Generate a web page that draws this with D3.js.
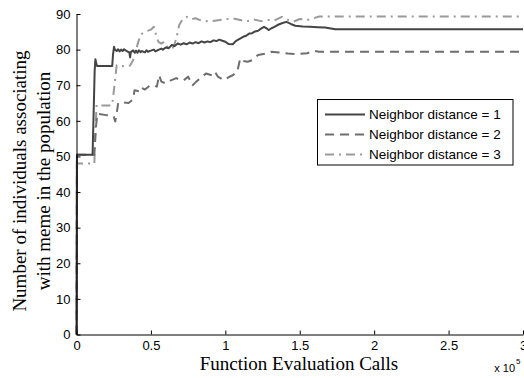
<!DOCTYPE html>
<html><head><meta charset="utf-8">
<script src="https://cdn.jsdelivr.net/npm/d3@7"></script>
<style>
html,body{margin:0;padding:0;background:#fff;}
svg{display:block;}
</style></head>
<body>
<svg id="chart" width="524" height="378"></svg>
<script>
// ---- data (x in units of 1e5 function evaluation calls) ----
const xTicks = [0, 0.5, 1, 1.5, 2, 2.5, 3];
const yTicks = [0, 10, 20, 30, 40, 50, 60, 70, 80, 90];
const seriesNames = ["Neighbor distance = 1", "Neighbor distance = 2", "Neighbor distance = 3"];

const d1x = [0,0.003,0.108,0.115,0.122,0.127,0.132,0.138,0.24,0.245,0.252,0.258,0.27,0.28,0.29,0.30,0.31,0.32,0.33,0.345,0.355,0.36,0.365,0.38,0.39,0.40,0.41,0.42,0.43,0.44,0.46,0.47,0.48,0.50,0.52,0.53,0.55,0.57,0.58,0.60,0.62,0.64,0.66,0.68,0.70,0.72,0.74,0.76,0.78,0.80,0.82,0.84,0.86,0.88,0.90,0.92,0.94,0.96,0.98,1.0,1.02,1.05,1.07,1.09,1.12,1.14,1.16,1.18,1.20,1.22,1.24,1.26,1.28,1.29,1.31,1.33,1.35,1.38,1.41,1.44,1.47,1.52,1.57,1.62,1.67,1.71,1.74,3.0];
const d1y = [0,50.5,50.5,62,74,77.3,76.2,75.4,75.4,78.5,80.8,80,79.6,80.1,79.5,80,79.6,80.1,79.8,79.4,79.2,77.8,79.3,79.8,79.2,79.7,79.1,79.8,79.3,79.6,79.2,79.8,79.4,79.7,80,79.5,79.9,80.3,80,80.6,80.4,81.3,81,81.7,81.4,81.8,81.5,82,81.7,82.1,81.8,82.3,82,82.3,82.1,82.6,82.4,82.8,82.5,82.2,81.6,81.5,82.4,82.9,83.6,83.9,84.5,84.6,85.1,85.3,85.9,86.4,85.9,85.5,86,86.4,86.9,87.4,87.8,87.2,86.7,86.5,86.4,86.3,86.2,85.9,85.7,85.7];

const d2x = [0,0.003,0.12,0.13,0.14,0.2,0.235,0.25,0.26,0.27,0.28,0.31,0.35,0.38,0.39,0.42,0.43,0.46,0.49,0.52,0.54,0.555,0.57,0.60,0.63,0.67,0.70,0.72,0.75,0.78,0.80,0.83,0.87,0.91,0.93,0.95,0.99,1.03,1.05,1.08,1.10,1.12,1.15,1.18,1.22,1.27,1.31,1.36,1.42,1.48,1.55,1.60,1.63,3.0];
const d2y = [0,50.5,50.5,58,62,61.6,61.5,61.2,59.8,62,65,65.2,65,66,68.6,68.3,69.4,68.8,69.8,70,69.6,72.8,71,70.5,71.3,72,71.4,71.4,72.4,70,70.8,71.9,73.3,72.8,73.8,72.4,71.4,72.4,72.8,73.8,77.5,76.8,76.6,77,78.5,78.9,79.4,79.2,78.9,78.7,79,79.6,79.4,79.4];

const d3x = [0,0.003,0.12,0.125,0.135,0.16,0.22,0.24,0.255,0.27,0.30,0.33,0.36,0.38,0.40,0.43,0.46,0.50,0.52,0.535,0.55,0.57,0.59,0.61,0.63,0.65,0.67,0.69,0.71,0.74,0.77,0.80,0.83,0.86,0.90,0.94,0.98,1.05,1.10,1.14,1.19,1.24,1.29,1.33,1.38,1.42,1.46,1.50,1.55,1.60,1.63,3.0];
const d3y = [0,48,48,55,64.5,64.3,64.3,64.5,70,75.6,75.4,75.3,75.5,77,80,84.2,85,85.6,86.4,84,82.2,81.7,82.2,80.8,80.2,80.6,83,86.9,88.3,89.2,88.5,88.8,88.3,88.1,87.9,88.2,88.4,88.8,88.3,87.9,88.5,88,88.3,88.2,89.2,88.4,87.9,88.6,88.3,88.9,89.3,89.3];

// ---- layout ----
const svg = d3.select("#chart");
const x = d3.scaleLinear().domain([0, 3]).range([76.5, 523]);
const y = d3.scaleLinear().domain([0, 90]).range([334.5, 14]);

const styles = [
  {color: "#444444", dash: null},
  {color: "#6e6e6e", dash: "9,6"},
  {color: "#9a9a9a", dash: "9,5,2,5"}
];
const data = [
  d1x.map((v, i) => [v, d1y[i]]),
  d2x.map((v, i) => [v, d2y[i]]),
  d3x.map((v, i) => [v, d3y[i]])
];

const line = d3.line().x(d => x(d[0])).y(d => y(d[1]));

// draw series: dash-dot (back), dashed, solid (front)
[2, 1, 0].forEach(k => {
  svg.append("path")
    .attr("d", line(data[k]))
    .attr("fill", "none")
    .attr("stroke", styles[k].color)
    .attr("stroke-width", 2)
    .attr("stroke-linejoin", "round")
    .attr("stroke-dasharray", styles[k].dash);
});

// axes
const font = "'Liberation Sans', Arial, Helvetica, sans-serif";
const xAxis = d3.axisBottom(x).tickValues(xTicks).tickSizeInner(-4).tickSizeOuter(0).tickPadding(8)
  .tickFormat(d => d3.format("")(d));
const yAxis = d3.axisLeft(y).tickValues(yTicks).tickSizeInner(-4).tickSizeOuter(0).tickPadding(6);

const gx = svg.append("g").attr("transform", `translate(0,${y(0)})`).call(xAxis);
const gy = svg.append("g").attr("transform", `translate(${x(0)},0)`).call(yAxis);
[gx, gy].forEach(g => {
  g.select(".domain").attr("stroke", "#000").attr("stroke-width", 1);
  g.selectAll(".tick line").attr("stroke", "#000");
  g.selectAll(".tick text").attr("font-family", font).attr("font-size", 13).attr("fill", "#000");
});
gx.selectAll(".tick text").attr("dy", null).attr("y", 15.5);

// x10^5 multiplier
svg.append("text").attr("x", 515).attr("y", 372)
  .attr("text-anchor", "end").attr("font-family", font).attr("font-size", 11).attr("fill", "#000")
  .text("x 10");
svg.append("text").attr("x", 516).attr("y", 364)
  .attr("font-family", font).attr("font-size", 8).attr("fill", "#000").text("5");

// axis labels
const serif = "'Liberation Serif', 'Times New Roman', Times, serif";
svg.append("text").attr("x", 299).attr("y", 370).attr("text-anchor", "middle")
  .attr("font-family", serif).attr("font-size", 19).attr("fill", "#000")
  .text("Function Evaluation Calls");
const yl = svg.append("text").attr("transform", "translate(26,181) rotate(-90)")
  .attr("text-anchor", "middle").attr("font-family", serif).attr("font-size", 19).attr("fill", "#000");
yl.append("tspan").attr("x", 0).attr("y", 0).text("Number of individuals associating");
yl.append("tspan").attr("x", 0).attr("y", 23.5).text("with meme in the population");

// legend
const lg = svg.append("g");
lg.append("rect").attr("x", 317.5).attr("y", 99.5).attr("width", 195.5).attr("height", 65.5)
  .attr("fill", "#fff").attr("stroke", "#000").attr("stroke-width", 1);
const ly = d3.scalePoint().domain(seriesNames).range([114.5, 154.5]);
seriesNames.forEach((name, k) => {
  lg.append("line").attr("x1", 325).attr("x2", 365).attr("y1", ly(name)).attr("y2", ly(name))
    .attr("stroke", styles[k].color).attr("stroke-width", 2).attr("stroke-dasharray", styles[k].dash);
  lg.append("text").attr("x", 369).attr("y", ly(name)).attr("dy", "0.36em")
    .attr("font-family", font).attr("font-size", 13.5).attr("fill", "#000").text(name);
});
</script>
</body></html>
